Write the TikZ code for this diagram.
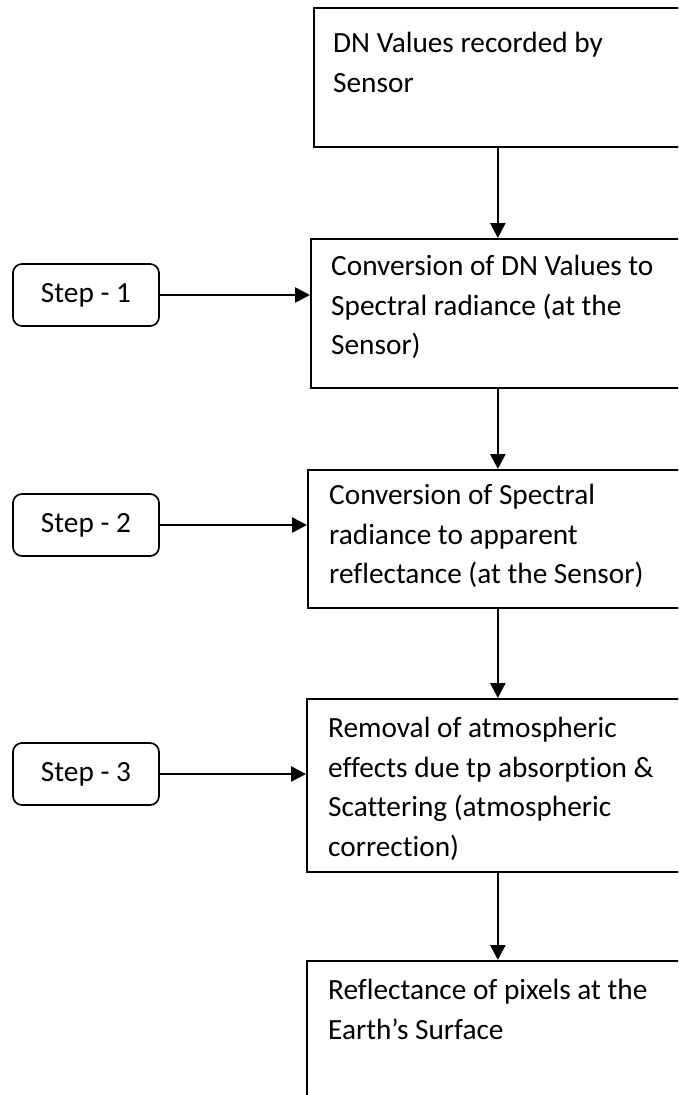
\documentclass[tikz,border=0pt]{standalone}
\usepackage{fontspec}
\setmainfont{Carlito}[Ligatures=NoCommon]
\usetikzlibrary{arrows.meta,positioning}
\tikzset{
    procbox/.style={draw, line width=1.7pt, inner sep=0pt, anchor=north west},
    boxtext/.style={anchor=north west, inner sep=0pt, align=left, font=\fontsize{29.3pt}{39.5pt}\selectfont},
    stepnode/.style={draw, rounded corners=9pt, line width=1.7pt, minimum width=146pt, minimum height=62pt, font=\fontsize{29.3pt}{39.5pt}\selectfont},
    flow/.style={line width=2.6pt, -{Triangle[length=15pt,width=15pt]}}
}

\begin{document}
\begin{tikzpicture}[x=1pt, y=-1pt]
        \useasboundingbox (0,0) rectangle (678,1095);
        \clip (0,0) rectangle (678,1095);

        \node[procbox, minimum width=368pt, minimum height=139pt] (dn) at (313,7) {};
        \node[procbox, minimum width=374pt, minimum height=149pt] (radiance) at (310,238) {};
        \node[procbox, minimum width=380pt, minimum height=138pt] (apparent) at (307,469) {};
        \node[procbox, minimum width=382pt, minimum height=173pt] (atmos) at (306,698) {};
        \node[procbox, minimum width=382pt, minimum height=220pt] (surface) at (306,960) {};

        \node[boxtext] (dntext) at (333,32) {DN Values recorded by\\Sensor};
        \node[boxtext] (radiancetext) at (331,255) {Conversion of DN Values to\\Spectral radiance (at the\\Sensor)};
        \node[boxtext] (apparenttext) at (329,484) {Conversion of Spectral\\radiance to apparent\\reflectance (at the Sensor)};
        \node[boxtext] (atmostext) at (328,717) {Removal of atmospheric\\effects due tp absorption \&\\Scattering (atmospheric\\correction)};
        \node[boxtext] (surfacetext) at (328,979) {Reflectance of pixels at the\\Earth’s Surface};

        \node[stepnode] (step1) at (86,295) {Step - 1};
        \node[stepnode] (step2) at (86,525) {Step - 2};
        \node[stepnode] (step3) at (86,774) {Step - 3};

        \draw[flow] (dn.south) -- (radiance.north);
        \draw[flow] (radiance.south) -- (apparent.north);
        \draw[flow] (apparent.south) -- (atmos.north);
        \draw[flow] (atmos.south) -- (surface.north);

        \draw[flow] (step1.east) -- (step1.east -| radiance.west);
        \draw[flow] (step2.east) -- (step2.east -| apparent.west);
        \draw[flow] (step3.east) -- (step3.east -| atmos.west);
    \end{tikzpicture}
\end{document}
